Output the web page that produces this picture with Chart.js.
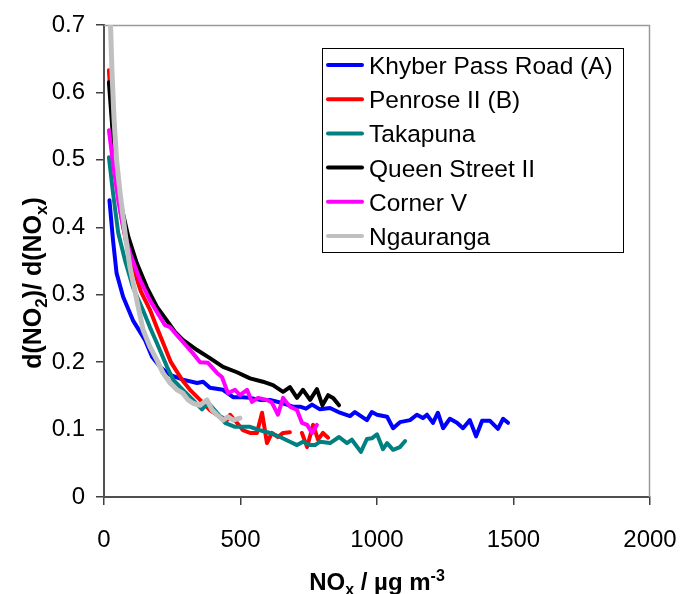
<!DOCTYPE html>
<html>
<head>
<meta charset="utf-8">
<script src="https://cdn.jsdelivr.net/npm/chart.js@4.4.0/dist/chart.umd.min.js"></script>
<style>
  html, body { margin: 0; padding: 0; background: #fff; }
  #wrap { width: 680px; height: 594px; }
</style>
</head>
<body>
<div id="wrap"><canvas id="ratioChart" width="680" height="594"></canvas></div>
<script>
// 站點名稱與顏色
const siteNames = ['Khyber Pass Road (A)', 'Penrose II (B)', 'Takapuna', 'Queen Street II', 'Corner V', 'Ngauranga'];
const siteColors = ['#0000ff', '#ff0000', '#008080', '#000000', '#ff00ff', '#c0c0c0'];
const siteWidths = [4, 4, 4, 4, 4, 5];

// 座標軸刻度
const noxTicks = [0, 500, 1000, 1500, 2000];
const ratioTicks = [0, 0.1, 0.2, 0.3, 0.4, 0.5, 0.6, 0.7];

// Khyber Pass Road (A)
const khyberNox = [20, 33, 46, 70, 106, 150, 176, 205, 242, 289, 341, 363, 388, 436, 473, 509, 535, 571, 608, 656, 692, 718, 740, 762, 791, 828, 864, 901, 919, 963, 981, 1000, 1037, 1059, 1084, 1121, 1146, 1168, 1183, 1205, 1223, 1242, 1267, 1293, 1315, 1340, 1363, 1385, 1414, 1443, 1462, 1480];
const khyberRatio = [0.44, 0.381, 0.332, 0.297, 0.262, 0.233, 0.208, 0.193, 0.181, 0.174, 0.169, 0.171, 0.162, 0.159, 0.148, 0.148, 0.147, 0.144, 0.144, 0.139, 0.134, 0.134, 0.131, 0.137, 0.130, 0.132, 0.125, 0.120, 0.126, 0.114, 0.126, 0.122, 0.119, 0.102, 0.111, 0.114, 0.122, 0.117, 0.122, 0.110, 0.125, 0.102, 0.116, 0.110, 0.102, 0.114, 0.090, 0.113, 0.113, 0.101, 0.116, 0.110];

// Penrose II (B)，700 附近缺資料
const penroseNox = [18, 25, 35, 48, 62, 80, 106, 135, 168, 195, 220, 245, 267, 289, 315, 352, 388, 414, 451, 462, 487, 509, 535, 560, 579, 597, 615, 637, 656, 681, 700, 725, 744, 766, 784, 802, 821];
const penroseRatio = [0.633, 0.59, 0.53, 0.47, 0.42, 0.38, 0.341, 0.305, 0.278, 0.25, 0.225, 0.2, 0.186, 0.172, 0.159, 0.144, 0.129, 0.122, 0.114, 0.122, 0.110, 0.099, 0.095, 0.095, 0.125, 0.080, 0.095, 0.089, 0.095, 0.096, null, 0.095, 0.074, 0.107, 0.085, 0.095, 0.088];

// Takapuna
const takapunaNox = [18, 33, 52, 77, 106, 143, 168, 194, 231, 253, 289, 326, 359, 381, 418, 443, 480, 535, 571, 608, 645, 681, 707, 729, 755, 773, 791, 828, 861, 890, 908, 941, 963, 981, 1000, 1022, 1037, 1059, 1084, 1103];
const takapunaRatio = [0.504, 0.451, 0.392, 0.351, 0.311, 0.277, 0.252, 0.228, 0.193, 0.174, 0.159, 0.144, 0.130, 0.140, 0.123, 0.110, 0.104, 0.104, 0.099, 0.095, 0.089, 0.082, 0.077, 0.082, 0.077, 0.077, 0.082, 0.080, 0.089, 0.080, 0.085, 0.067, 0.086, 0.087, 0.093, 0.071, 0.080, 0.070, 0.074, 0.083];

// Queen Street II
const queenNox = [18, 33, 46, 64, 89, 120, 157, 194, 230, 260, 289, 341, 388, 436, 487, 535, 582, 619, 656, 681, 707, 729, 755, 780, 800, 821, 839, 861];
const queenRatio = [0.615, 0.534, 0.485, 0.430, 0.386, 0.347, 0.311, 0.282, 0.262, 0.245, 0.233, 0.218, 0.206, 0.193, 0.185, 0.176, 0.171, 0.166, 0.156, 0.163, 0.147, 0.159, 0.144, 0.160, 0.136, 0.151, 0.147, 0.136];

// Corner V
const cornerNox = [18, 33, 52, 70, 95, 132, 168, 205, 223, 242, 267, 289, 326, 352, 381, 414, 432, 454, 480, 498, 524, 542, 564, 597, 615, 637, 656, 681, 707, 725, 744, 762, 780];
const cornerRatio = [0.544, 0.495, 0.440, 0.400, 0.362, 0.322, 0.292, 0.267, 0.255, 0.252, 0.240, 0.230, 0.213, 0.200, 0.199, 0.184, 0.178, 0.154, 0.159, 0.151, 0.159, 0.141, 0.147, 0.144, 0.140, 0.122, 0.147, 0.134, 0.129, 0.110, 0.107, 0.095, 0.107];

// Ngauranga（第一點超出 0.7，被圖區裁掉）
const ngaurangaNox = [18, 29, 37, 46, 59, 77, 95, 120, 143, 168, 194, 216, 242, 267, 289, 308, 326, 352, 377, 396, 414, 436, 454, 473, 498];
const ngaurangaRatio = [0.78, 0.633, 0.559, 0.500, 0.451, 0.392, 0.341, 0.292, 0.248, 0.223, 0.203, 0.184, 0.169, 0.159, 0.154, 0.144, 0.139, 0.136, 0.144, 0.129, 0.122, 0.114, 0.119, 0.114, 0.117];

const seriesX = [khyberNox, penroseNox, takapunaNox, queenNox, cornerNox, ngaurangaNox];
const seriesY = [khyberRatio, penroseRatio, takapunaRatio, queenRatio, cornerRatio, ngaurangaRatio];

function pairs(xs, ys) {
  return xs.map((x, i) => ({ x: x, y: ys[i] }));
}

const FONT = 'Arial, "Liberation Sans", sans-serif';

// 畫帶上下標的文字，parts: [{t, mode}]，mode 為 'sub' / 'sup' / undefined
function drawRich(ctx, parts, cx, baseY, size) {
  const big = 'bold ' + size + 'px ' + FONT;
  const small = 'bold ' + Math.round(size * 0.66) + 'px ' + FONT;
  let total = 0;
  parts.forEach(p => {
    ctx.font = p.mode ? small : big;
    p.w = ctx.measureText(p.t).width;
    total += p.w;
  });
  let x = cx - total / 2;
  ctx.textAlign = 'left';
  ctx.textBaseline = 'alphabetic';
  parts.forEach(p => {
    ctx.font = p.mode ? small : big;
    let dy = 0;
    if (p.mode === 'sub') dy = size * 0.22;
    if (p.mode === 'sup') dy = -size * 0.38;
    ctx.fillText(p.t, x, baseY + dy);
    x += p.w;
  });
}

// 圖區外框、座標軸標題、圖例
const decorPlugin = {
  id: 'decor',
  beforeDatasetsDraw(chart) {
    const ctx = chart.ctx;
    const a = chart.chartArea;
    ctx.save();
    ctx.strokeStyle = '#9a9a9a';
    ctx.lineWidth = 1.5;
    ctx.beginPath();
    ctx.moveTo(a.left, a.top + 0.5);
    ctx.lineTo(a.right - 0.5, a.top + 0.5);
    ctx.lineTo(a.right - 0.5, a.bottom);
    ctx.stroke();
    ctx.restore();
  },
  afterDraw(chart) {
    const ctx = chart.ctx;
    const a = chart.chartArea;
    ctx.save();
    ctx.fillStyle = '#000';

    // x 軸標題
    drawRich(ctx, [
      { t: 'NO' }, { t: 'x', mode: 'sub' }, { t: ' / µg m' }, { t: '-3', mode: 'sup' }
    ], (a.left + a.right) / 2, 590, 24);

    // y 軸標題（旋轉）
    ctx.save();
    ctx.translate(41, 283);
    ctx.rotate(-Math.PI / 2);
    drawRich(ctx, [
      { t: 'd(NO' }, { t: '2', mode: 'sub' }, { t: ')/ d(NO' }, { t: 'x', mode: 'sub' }, { t: ')' }
    ], 0, 0, 25);
    ctx.restore();

    // 圖例
    const box = { x: 322.5, y: 48.5, w: 301, h: 204 };
    ctx.fillStyle = '#fff';
    ctx.fillRect(box.x, box.y, box.w, box.h);
    ctx.strokeStyle = '#000';
    ctx.lineWidth = 1;
    ctx.strokeRect(box.x, box.y, box.w, box.h);
    ctx.font = '24.5px ' + FONT;
    ctx.textAlign = 'left';
    ctx.textBaseline = 'alphabetic';
    chart.data.datasets.forEach((ds, i) => {
      const y = 65 + i * 34.2;
      ctx.strokeStyle = ds.borderColor;
      ctx.lineWidth = 4;
      ctx.lineCap = 'round';
      ctx.beginPath();
      ctx.moveTo(328, y);
      ctx.lineTo(362, y);
      ctx.stroke();
      ctx.fillStyle = '#000';
      ctx.fillText(ds.label, 369, y + 9);
    });
    ctx.restore();
  }
};

const datasets = siteNames.map((name, i) => ({
  label: name,
  data: pairs(seriesX[i], seriesY[i]),
  borderColor: siteColors[i],
  backgroundColor: siteColors[i],
  borderWidth: siteWidths[i],
  pointRadius: 0,
  tension: 0,
  spanGaps: false,
  borderJoinStyle: 'round',
  borderCapStyle: 'round',
  clip: { left: 5, top: 0, right: 5, bottom: 5 },
  order: siteNames.length - i // 後面的系列畫在上層
}));

new Chart(document.getElementById('ratioChart').getContext('2d'), {
  type: 'line',
  data: { datasets },
  plugins: [decorPlugin],
  options: {
    responsive: false,
    animation: false,
    devicePixelRatio: 1,
    layout: { padding: { top: 25, right: 30, left: 0, bottom: 0 } },
    plugins: { legend: { display: false }, tooltip: { enabled: false } },
    scales: {
      x: {
        type: 'linear',
        min: 0,
        max: 2000,
        afterBuildTicks: scale => { scale.ticks = noxTicks.map(v => ({ value: v })); },
        afterFit: scale => {
          scale.height = 97;
          scale.paddingRight = 0;
          scale.paddingLeft = 0;
        },
        ticks: {
          color: '#000',
          font: { family: FONT, size: 24 },
          padding: 21,
          maxRotation: 0,
          callback: v => String(v)
        },
        grid: { display: true, drawOnChartArea: false, drawTicks: true, tickLength: 8, color: '#404040', lineWidth: 1.5 },
        border: { display: true, color: '#505050', width: 2 }
      },
      y: {
        type: 'linear',
        min: 0,
        max: 0.7,
        afterBuildTicks: scale => { scale.ticks = ratioTicks.map(v => ({ value: v })); },
        afterFit: scale => {
          scale.width = 104;
          scale.paddingTop = 0;
          scale.paddingBottom = 0;
        },
        ticks: {
          color: '#000',
          font: { family: FONT, size: 24 },
          padding: 11,
          callback: v => (v === 0 ? '0' : v.toFixed(1))
        },
        grid: { display: true, drawOnChartArea: false, drawTicks: true, tickLength: 8, color: '#404040', lineWidth: 1.5 },
        border: { display: true, color: '#505050', width: 2 }
      }
    }
  }
});
</script>
</body>
</html>
